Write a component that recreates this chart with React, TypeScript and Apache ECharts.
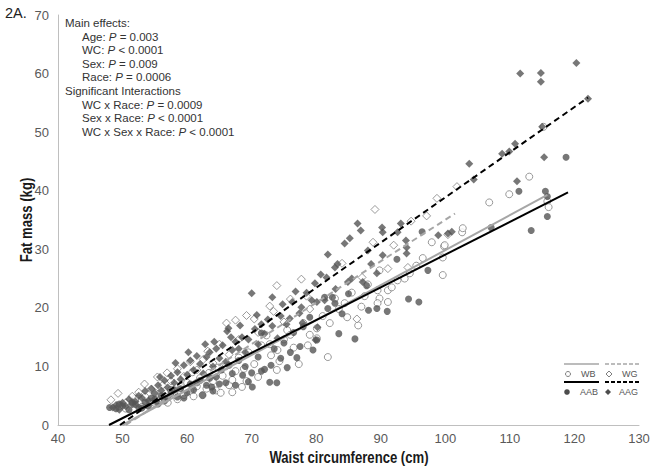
import React, { useEffect, useRef } from "react";
import * as echarts from "echarts";

// ---- Data (waist circumference cm, fat mass kg) ----
const wbPoints: number[][] = [
  [49.5,3.2],[50.5,2.8],[51.5,3.6],[52,4.5],[53,3.1],[53.5,4.8],[54.5,3.9],[55,5.5],[55.5,4.2],[56.5,4.9],
  [57,3.8],[57.5,6.0],[58,5.2],[58.5,4.4],[59,6.5],[59.5,5.1],[60,7.2],[60.5,5.8],[61,4.9],[61.5,6.6],
  [62,8.0],[62.4,5.1],[63,6.2],[63.4,8.9],[64,7.5],[64.5,5.9],[65.2,5.5],[65.5,8.4],[66,10.0],[66.5,6.8],
  [67,5.6],[67,7.7],[67.5,9.2],[68,11.5],[68.5,6.5],[69.2,7.5],[69.5,12.4],[70.4,10.4],[71,8.2],[71.5,13.6],
  [72.3,15.3],[73,11.9],[73.9,9.4],[74,12.8],[74.3,10.9],[75,14.6],[75.5,16.2],[76.5,13.2],[77.3,10.4],[78,17.4],
  [78.7,13.6],[79,15.4],[80.1,16.5],[80.1,14.8],[81,18.6],[81.8,11.6],[82.1,17.4],[82.9,21.6],[83.5,19.8],[84.4,20.8],
  [85.5,22.6],[86.5,17.0],[87,20.2],[88,24.0],[89.5,23.0],[89.8,26.4],[89.8,21.6],[89.5,20.8],[91.1,23.0],[91.1,21.0],
  [91.7,23.5],[92.6,24.7],[93.7,25.0],[94.5,25.9],[95.5,27.2],[97.9,31.2],[99.6,28.6],[99.6,25.6],[99.8,30.5],[99.9,30.7],
  [102.6,32.9],[102.7,33.6],[106.8,38.0],[109.9,39.4],[113.0,42.4],[115.2,50.9],[115.8,38.2],[116,37.2],
  [60.8,9.0],[64.8,9.8],[68.8,9.6],[72.8,13.8],[76,15.4],[84.8,18.4],[87.5,22.0],[96.5,28.5]
];

const wgPoints: number[][] = [
  [48.2,4.3],[49.3,5.4],[50.5,3.8],[51.5,4.9],[52.5,5.6],[53.4,7.0],[54.4,6.1],[55.4,8.2],[56.2,6.8],[56.9,8.9],
  [57.5,7.5],[58.5,9.6],[59.5,8.3],[60.5,10.8],[61.5,9.4],[62.5,11.2],[63.2,12.6],[64,10.6],[65,13.8],[66.1,17.4],
  [66.5,12.0],[67.5,17.9],[68,14.6],[69.2,18.7],[70.4,18.1],[71,15.8],[72.8,20.3],[73.4,19.4],[73.9,23.8],[75,17.6],
  [76,21.5],[77.7,24.9],[78.5,22.0],[79,19.8],[84,27.6],[86.3,18.1],[87.1,25.2],[88.8,31.2],[89.1,36.8],[91.1,26.7],
  [92,30.7],[94.2,26.9],[94.7,34.8],[97.1,35.7],[98.7,38.7],[100.4,32.5],[101.8,40.7]
];

const aabPoints: number[][] = [
  [48,3.0],[49,2.8],[50,3.3],[51,2.6],[52,3.5],[52.5,3.0],[53.5,3.9],[54,3.2],[55,4.4],[55.5,3.6],
  [56,5.0],[57,4.6],[57.5,5.4],[58.5,4.8],[59,6.2],[60,5.5],[60.5,7.0],[61,6.0],[62,7.6],[62.4,5.1],
  [63,6.8],[63.8,6.5],[64.5,8.2],[65.3,9.4],[66,7.2],[66.5,10.2],[67,8.8],[68,11.0],[68.6,8.5],[69,10.0],
  [70,8.9],[70.1,6.5],[71,11.6],[71.5,15.7],[72,9.5],[72.8,7.3],[73.5,13.0],[73.9,7.2],[74.5,11.4],[75,14.0],
  [76,12.4],[76.5,15.8],[77.5,13.4],[78,16.8],[79,18.4],[80.1,14.5],[81.3,21.8],[81.8,19.9],[82.5,21.8],[82.9,20.8],
  [84,19.0],[85,22.4],[86,14.7],[87.8,23.8],[88.1,19.6],[89.4,19.9],[92.5,28.3],[94.3,21.5],[95.9,21.0],[96.4,33.0],
  [97.3,26.4],[107.1,33.7],[111.4,39.9],[113.3,33.2],[115.5,39.9],[115.8,39.0],[115.8,35.6],[118.7,45.7],
  [49.5,3.6],[51.5,3.9],[53,2.9],[54.5,4.6],[56.5,4.1],[58,6.0],[59.5,4.6],[61.5,7.2],[63.5,8.0],[64,5.8],
  [65,7.0],[67.5,6.8],[69.5,7.4],[71.5,9.2],[73,10.2],[75.5,9.8],[77,11.5],[79.5,12.8],[83.5,15.6],[91,19.4]
];

const aagPoints: number[][] = [
  [48.5,3.0],[49,3.4],[49.5,2.6],[50,3.8],[50.5,3.2],[51,4.4],[51.5,3.6],[52,4.0],[52.5,5.0],[53,4.6],
  [53.5,5.8],[54,4.2],[54.5,6.2],[55,5.4],[55.5,6.8],[56,5.9],[56.5,7.6],[57,6.4],[57.5,8.4],[58,7.2],
  [58.5,9.0],[59,7.8],[59.5,10.2],[60,8.6],[60.5,11.0],[61,9.4],[61.5,11.8],[62,10.4],[62.5,8.8],[63,11.6],
  [63.5,12.4],[64,10.0],[64.5,13.0],[65,11.4],[65.5,13.6],[66,10.8],[66.2,16.0],[66.4,16.5],[67,12.8],[67.5,14.2],
  [68,13.0],[68.5,15.0],[69,12.4],[69.5,14.6],[70,22.5],[70.5,16.4],[71,13.8],[71.5,17.2],[72,15.6],[72.5,18.0],
  [73.2,21.8],[73.2,16.9],[74,14.8],[74.5,18.6],[75.4,17.2],[75.9,18.2],[76.3,21.0],[77.4,19.1],[77.7,20.1],[77.9,17.4],
  [78.5,22.6],[79.3,21.3],[79.8,24.2],[79.9,14.5],[80.1,21.0],[80.2,16.7],[80.7,25.7],[81.3,21.3],[81.6,25.2],[81.8,29.1],
  [82.9,26.9],[83.3,27.5],[84.4,31.0],[84.9,24.4],[85.2,31.9],[85.5,25.0],[86.4,34.4],[86.9,33.2],[87.2,24.4],[88,29.8],
  [89.4,25.9],[90.2,33.7],[90.3,32.9],[90.3,29.0],[92.6,32.9],[93.1,34.4],[93.9,31.5],[94,30.3],[94,29.3],[98.9,32.4],
  [100.4,32.7],[101,33.0],[103.7,44.6],[104.4,41.9],[108.8,46.3],[109.9,46.7],[110.8,48.0],[111.1,41.6],[111.6,60.0],[114.8,60.1],
  [114.8,58.6],[115.0,50.9],[115.3,45.7],[120.3,61.8],[122.1,55.7],
  [55.8,8.2],[58.2,10.6],[60.2,12.4],[62.8,13.8],[64.2,14.2],[66.8,15.0],[68.2,17.0],[70.8,18.8],[74.8,20.6],[76.8,22.8],
  [83,23.2],[88.5,27.5]
];

// regression line endpoints [x, y]
const wbFit: number[][] = [[50.0, 0], [115.8, 39.3]];
const wgFit: number[][] = [[50.5, 0], [101.5, 36.1]];
const aabFit: number[][] = [[47.9, 0], [119.0, 39.7]];
const aagFit: number[][] = [[49.6, 0], [122.1, 55.9]];

const xTicks = { min: 40, max: 130, interval: 10 };
const yTicks = { min: 0, max: 70, interval: 10 };

const xTitle = "Waist circumference (cm)";
const yTitle = "Fat mass (kg)";

const mainEffects: string[][] = [
  ["Age: ", "P", " = 0.003"],
  ["WC: ", "P", " < 0.0001"],
  ["Sex: ", "P", " = 0.009"],
  ["Race: ", "P", " = 0.0006"],
];
const interactions: string[][] = [
  ["WC x Race: ", "P", " = 0.0009"],
  ["Sex x Race: ", "P", " < 0.0001"],
  ["WC x Sex x Race: ", "P", " < 0.0001"],
];

const SANS = "'Liberation Sans', Arial, sans-serif";

export default function App() {
  const ref = useRef<HTMLDivElement>(null);

  useEffect(() => {
    if (!ref.current) return;
    const chart = echarts.init(ref.current, undefined, { renderer: "svg" });

    const rich = {
      n: { fontFamily: SANS, fontSize: 11.5, fill: "#333" },
      i: { fontFamily: SANS, fontSize: 11.5, fill: "#333", fontStyle: "italic" },
    };
    const top0 = 17;
    const step = 13.6;
    const lineTxt = (parts: string[], x: number, y: number) => ({
      type: "text",
      left: x,
      top: y,
      style: {
        text: `{n|${parts[0]}}{i|${parts[1]}}{n|${parts[2]}}`,
        rich,
        fontFamily: SANS,
        fontSize: 11.5,
      },
    });

    const annot: any[] = [];
    annot.push({ type: "text", left: 65, top: top0, style: { text: "Main effects:", fontFamily: SANS, fontSize: 11.5, fill: "#333" } });
    mainEffects.forEach((p, k) => annot.push(lineTxt(p, 82, top0 + step * (k + 1))));
    annot.push({ type: "text", left: 65, top: top0 + step * 5, style: { text: "Significant Interactions", fontFamily: SANS, fontSize: 11.5, fill: "#333" } });
    interactions.forEach((p, k) => annot.push(lineTxt(p, 82, top0 + step * (k + 6))));

    const legendFont = { fontFamily: SANS, fontSize: 9, fill: "#555" };
    const legend: any[] = [
      { type: "line", shape: { x1: 564, y1: 364, x2: 599, y2: 364 }, style: { stroke: "#a6a6a6", lineWidth: 1.5 } },
      { type: "line", shape: { x1: 605, y1: 364, x2: 640, y2: 364 }, style: { stroke: "#a6a6a6", lineWidth: 1.5, lineDash: [4, 2] } },
      { type: "line", shape: { x1: 564, y1: 382, x2: 599, y2: 382 }, style: { stroke: "#000", lineWidth: 2 } },
      { type: "line", shape: { x1: 605, y1: 382, x2: 640, y2: 382 }, style: { stroke: "#000", lineWidth: 2, lineDash: [4, 2] } },
      { type: "circle", shape: { cx: 568, cy: 374, r: 2.5 }, style: { fill: "#fff", stroke: "#7f7f7f", lineWidth: 1 } },
      { type: "polygon", shape: { points: [[609, 371], [612, 374], [609, 377], [606, 374]] }, style: { fill: "#fff", stroke: "#7f7f7f", lineWidth: 1 } },
      { type: "circle", shape: { cx: 567, cy: 392, r: 2.8 }, style: { fill: "#4d4d4d" } },
      { type: "polygon", shape: { points: [[608, 389], [611, 392], [608, 395], [605, 392]] }, style: { fill: "#4d4d4d" } },
      { type: "text", left: 581, top: 369, style: { text: "WB", ...legendFont } },
      { type: "text", left: 622, top: 369, style: { text: "WG", ...legendFont } },
      { type: "text", left: 580, top: 387, style: { text: "AAB", ...legendFont } },
      { type: "text", left: 619, top: 387, style: { text: "AAG", ...legendFont } },
    ];

    const titles: any[] = [
      {
        type: "text", x: 349, y: 458, scaleX: 0.82,
        style: { text: xTitle, fontFamily: SANS, fontSize: 16, fontWeight: "bold", fill: "#1a1a1a", align: "center", verticalAlign: "middle" },
      },
      {
        type: "text", x: 27, y: 220, rotation: Math.PI / 2, scaleX: 0.82,
        style: { text: yTitle, fontFamily: SANS, fontSize: 16, fontWeight: "bold", fill: "#1a1a1a", align: "center", verticalAlign: "middle" },
      },
    ];

    chart.setOption({
      animation: false,
      backgroundColor: "#fff",
      grid: { left: 58, right: 15, top: 15, bottom: 48, containLabel: false },
      xAxis: {
        type: "value",
        min: xTicks.min,
        max: xTicks.max,
        interval: xTicks.interval,
        axisLine: { show: true, lineStyle: { color: "#bfbfbf", width: 1 } },
        axisTick: { show: false },
        splitLine: { show: false },
        axisLabel: { fontFamily: SANS, fontSize: 13, color: "#595959", margin: 7 },
      },
      yAxis: {
        type: "value",
        min: yTicks.min,
        max: yTicks.max,
        interval: yTicks.interval,
        axisLine: { show: true, lineStyle: { color: "#bfbfbf", width: 1 } },
        axisTick: { show: false },
        splitLine: { show: false },
        axisLabel: { fontFamily: SANS, fontSize: 13, color: "#595959", margin: 9 },
      },
      graphic: [
        { type: "text", left: 5, top: 5, style: { text: "2A.", fontFamily: SANS, fontSize: 14.5, fill: "#222" } },
        ...annot,
        ...legend,
        ...titles,
      ],
      series: [
        {
          name: "WB", type: "scatter", data: wbPoints, symbol: "circle", symbolSize: 7,
          itemStyle: { color: "#fff", borderColor: "#7f7f7f", borderWidth: 1 },
        },
        {
          name: "WG", type: "scatter", data: wgPoints, symbol: "diamond", symbolSize: 8,
          itemStyle: { color: "#fff", borderColor: "#7f7f7f", borderWidth: 1 },
        },
        {
          name: "AAB", type: "scatter", data: aabPoints, symbol: "circle", symbolSize: 7,
          itemStyle: { color: "#555555" },
        },
        {
          name: "AAG", type: "scatter", data: aagPoints, symbol: "diamond", symbolSize: 8,
          itemStyle: { color: "#555555" },
        },
        {
          name: "WB fit", type: "line", data: wbFit, symbol: "none",
          lineStyle: { color: "#a6a6a6", width: 2 }, z: 5,
        },
        {
          name: "WG fit", type: "line", data: wgFit, symbol: "none",
          lineStyle: { color: "#a6a6a6", width: 2, type: [6, 4] }, z: 5,
        },
        {
          name: "AAB fit", type: "line", data: aabFit, symbol: "none",
          lineStyle: { color: "#000", width: 2 }, z: 5,
        },
        {
          name: "AAG fit", type: "line", data: aagFit, symbol: "none",
          lineStyle: { color: "#000", width: 2, type: [6, 4] }, z: 5,
        },
      ],
    });

    return () => chart.dispose();
  }, []);

  return <div ref={ref} style={{ width: 654, height: 473, position: "absolute", left: 0, top: 0 }} />;
}
